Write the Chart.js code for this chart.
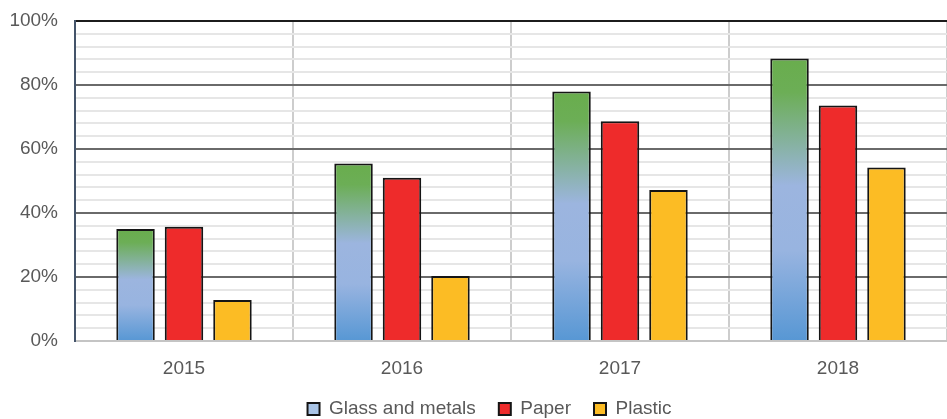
<!DOCTYPE html>
<html>
<head>
<meta charset="utf-8">
<script src="https://cdn.jsdelivr.net/npm/chart.js@4.4.1/dist/chart.umd.min.js"></script>
<style>
  html, body { margin: 0; padding: 0; background: #ffffff; }
  #wrap { width: 947px; height: 419px; position: relative; }
</style>
</head>
<body>
<div id="wrap"><canvas id="chart"></canvas></div>
<script>
// Share of packaging waste recycled, by material and year (%)
const categories = ['2015', '2016', '2017', '2018'];
const glassAndMetals = [35, 55.5, 78, 88.3];
const paper = [35.7, 51, 68.7, 73.6];
const plastic = [12.8, 20.3, 47.2, 54.2];
const seriesNames = ['Glass and metals', 'Paper', 'Plastic'];

const FONT = "'Liberation Sans', Arial, sans-serif";
const TEXT = '#595959';
const legendFills = ['#a9c4e6', '#ee2b2b', '#fcbc24'];

// vertical green -> light blue -> blue fill, spanning each bar from top to base
function glassFill(ctx) {
  if (ctx.type !== 'data') return legendFills[0];
  const chart = ctx.chart;
  const ys = chart.scales.y;
  if (!chart.chartArea || !ys) return legendFills[0];
  const top = ys.getPixelForValue(ctx.parsed.y);
  const base = ys.getPixelForValue(0);
  const g = chart.ctx.createLinearGradient(0, top, 0, base);
  g.addColorStop(0, '#69ad4d');
  g.addColorStop(0.12, '#6cae56');
  g.addColorStop(0.45, '#9cb5df');
  g.addColorStop(0.68, '#98b4e0');
  g.addColorStop(1, '#5797d4');
  return g;
}

const barCommon = {
  borderColor: '#151515',
  borderWidth: 2,
  categoryPercentage: 0.667,
  barPercentage: 0.794
};

// nudge the legend row a little to the right of the canvas centre
const legendShift = {
  id: 'legendShift',
  afterLayout(chart) {
    if (chart.legend) {
      chart.legend.left += 16;
      chart.legend.right += 16;
    }
  }
};

new Chart(document.getElementById('chart'), {
  type: 'bar',
  data: {
    labels: categories,
    datasets: [
      Object.assign({ label: seriesNames[0], data: glassAndMetals, backgroundColor: glassFill }, barCommon),
      Object.assign({ label: seriesNames[1], data: paper, backgroundColor: legendFills[1] }, barCommon),
      Object.assign({ label: seriesNames[2], data: plastic, backgroundColor: legendFills[2] }, barCommon)
    ]
  },
  plugins: [legendShift],
  options: {
    responsive: true,
    maintainAspectRatio: false,
    animation: false,
    layout: { padding: { left: 0, right: 0, top: 21, bottom: 0 } },
    plugins: {
      tooltip: { enabled: false },
      legend: {
        position: 'bottom',
        align: 'center',
        maxHeight: 42.5,
        labels: {
          boxWidth: 12,
          boxHeight: 12,
          padding: 23,
          color: TEXT,
          font: { family: FONT, size: 19 },
          generateLabels: (chart) => chart.data.datasets.map((ds, i) => ({
            text: ds.label,
            fillStyle: legendFills[i],
            strokeStyle: '#151515',
            lineWidth: 2,
            fontColor: TEXT,
            hidden: false,
            datasetIndex: i
          }))
        }
      }
    },
    scales: {
      x: {
        afterFit: (s) => { s.height = 35.5; s.paddingLeft = 0; s.paddingRight = 0; },
        grid: {
          offset: true,
          drawTicks: false,
          lineWidth: 2,
          color: (c) => (c.index === 0 ? 'rgba(0,0,0,0)' : '#cdcdcd')
        },
        border: { display: true, color: '#c4c4c4', width: 2 },
        ticks: { color: TEXT, padding: 16, font: { family: FONT, size: 19 } }
      },
      y: {
        min: 0,
        max: 100,
        afterFit: (s) => { s.width = 75; s.paddingTop = 0; s.paddingBottom = 0; },
        grid: {
          drawTicks: false,
          lineWidth: 2,
          color: (c) => {
            const v = c.tick ? c.tick.value : null;
            if (v === 100) return '#1c1c1c';
            if (v === 0) return '#c4c4c4';
            if (v % 20 === 0) return '#6a6a6a';
            return '#e6e6e6';
          }
        },
        border: { display: true, color: '#44546a', width: 2 },
        ticks: {
          stepSize: 4,
          autoSkip: false,
          padding: 17,
          color: TEXT,
          font: { family: FONT, size: 19 },
          callback: (v) => (v % 20 === 0 ? v + '%' : '')
        }
      }
    }
  }
});
</script>
</body>
</html>
